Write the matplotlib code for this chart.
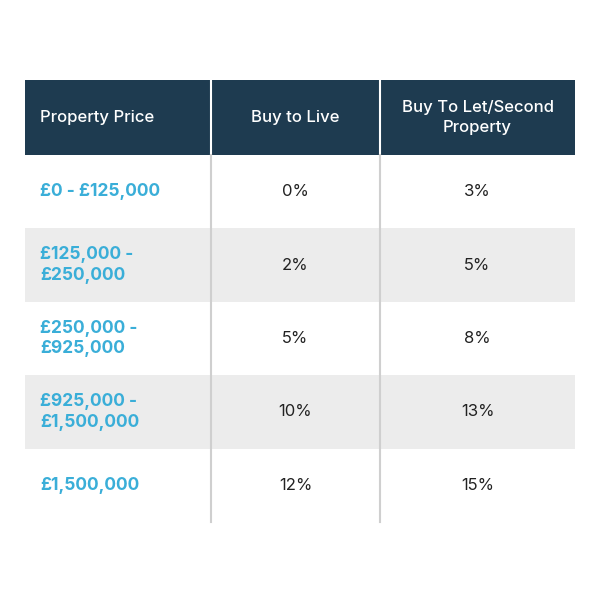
import matplotlib
matplotlib.use('Agg')
import matplotlib.pyplot as plt
from matplotlib.patches import Rectangle

headers = ['Property Price', 'Buy to Live', 'Buy To Let/Second\nProperty']
price_bands = ['£0 - £125,000', '£125,000 -\n£250,000', '£250,000 -\n£925,000',
               '£925,000 -\n£1,500,000', '£1,500,000']
buy_to_live = ['0%', '2%', '5%', '10%', '12%']
buy_to_let = ['3%', '5%', '8%', '13%', '15%']

navy = '#1e3b50'
blue = '#3aaed8'
grey = '#ececec'
plt.rcParams['font.family'] = 'Inter'

fig = plt.figure(figsize=(6, 6), dpi=100)
ax = fig.add_axes([0, 0, 1, 1])
ax.set_xlim(0, 600)
ax.set_ylim(600, 0)
ax.axis('off')

col_x = [25, 211, 380, 575]
header_top, header_bot = 80, 155
row_h = 73.4

# header
ax.add_patch(Rectangle((col_x[0], header_top), col_x[-1] - col_x[0],
                       header_bot - header_top, color=navy, lw=0))
for i, h in enumerate(headers):
    if i == 0:
        ax.text(40, (header_top + header_bot) / 2, h, color='white', fontsize=12,
                fontweight='medium', ha='left', va='center')
    else:
        ax.text((col_x[i] + col_x[i + 1]) / 2, (header_top + header_bot) / 2, h,
                color='white', fontsize=12, fontweight='medium', ha='center',
                va='center', linespacing=1.4)

# rows
for r in range(len(price_bands)):
    top = header_bot + r * row_h
    mid = top + row_h / 2
    if r % 2 == 1:
        ax.add_patch(Rectangle((col_x[0], top), col_x[-1] - col_x[0], row_h,
                               color=grey, lw=0))
    ax.text(40, mid, price_bands[r], color=blue, fontsize=12.5, fontweight='bold',
            ha='left', va='center', linespacing=1.3)
    ax.text((col_x[1] + col_x[2]) / 2, mid, buy_to_live[r], color='#222222',
            fontsize=12, ha='center', va='center')
    ax.text((col_x[2] + col_x[3]) / 2, mid, buy_to_let[r], color='#222222',
            fontsize=12, ha='center', va='center')

bottom = header_bot + len(price_bands) * row_h
for x in col_x[1:3]:
    ax.plot([x, x], [header_top, header_bot], color='white', lw=1.5)
    ax.plot([x, x], [header_bot, bottom], color='#cfcfcf', lw=1.5)

fig.savefig('out.png', dpi=100)
